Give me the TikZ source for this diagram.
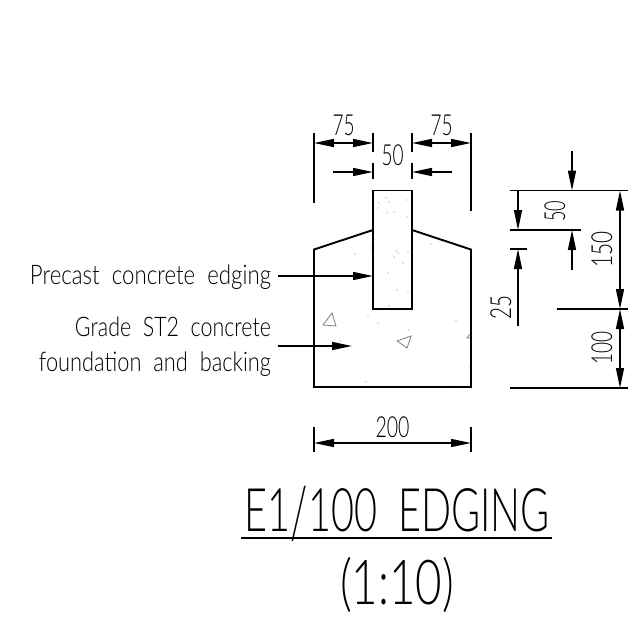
\documentclass[tikz,border=0pt]{standalone}
\usepackage{fontspec}
\usepackage{graphicx}
\setmainfont{Lato Light}
\usetikzlibrary{arrows.meta}
\newcommand\cad[3]{\resizebox{#2pt}{\height}{\fontsize{#1pt}{#1pt}\selectfont #3}}
\tikzset{
  outline/.style={line width=1.9pt,line join=miter},
  ext/.style={line width=1.7pt},
  dim/.style={line width=1.5pt,{Triangle[length=20pt,width=8pt]}-{Triangle[length=20pt,width=8pt]}},
  dimend/.style={line width=1.5pt,-{Triangle[length=20pt,width=8pt]}},
  txt/.style={inner sep=0pt,outer sep=0pt,text=black},
  speck/.style={fill=black!45},
  agg/.style={draw=black!50,line width=.8pt,line join=miter}
}
\begin{document}
\begin{tikzpicture}[x=1pt,y=-1pt]
\useasboundingbox (0,0) rectangle (638,630);
\fill[white] (0,0) rectangle (638,630);
% aggregate specks
\foreach \p in {(386,198),(389,202),(406,200),(379,203),(378,208),(387,213),(394,212),(407,217),(355,254),(371,248),(431,244),(396,251),(398,253),(408,252),(394,257),(403,263),(388,273),(397,290),(408,291),(389,306),(368,315),(378,323),(456,321),(409,330),(340,341),(366,382),(453,386),(470,367)}
  \fill[speck] \p circle (.7);
\draw[agg] (332,313)--(323,325)--(336,326)--cycle;
\draw[agg] (397,341)--(411,336)--(407,348)--cycle;
\draw[agg] (471,333)--(467,338)--(471,338);
% key points
\coordinate (bl) at (314,387); \coordinate (br) at (471,387);
\coordinate (sl) at (314,249.5); \coordinate (sr) at (471,249.5);
\coordinate (il) at (373,230); \coordinate (ir) at (412,230);
\coordinate (etl) at (373,190.5); \coordinate (etr) at (412,190.5);
\coordinate (ebl) at (373,309); \coordinate (ebr) at (412,309);
\draw[outline] (il)--(sl)--(bl)--(br)--(sr)--(ir);
\draw[outline] (etl) rectangle (ebr);
% top dimensions
\coordinate (t1a) at (314,133); \coordinate (t1b) at (314,203);
\coordinate (t2a) at (373,133); \coordinate (t2b) at (373,152);
\coordinate (t3a) at (373,163); \coordinate (t3b) at (373,179);
\coordinate (t4a) at (412,133); \coordinate (t4b) at (412,152);
\coordinate (t5a) at (412,163); \coordinate (t5b) at (412,179);
\coordinate (t6a) at (471,133); \coordinate (t6b) at (471,211);
\foreach \n in {1,...,6} \draw[ext] (t\n a)--(t\n b);
\coordinate (d1a) at (314,143); \coordinate (d1b) at (373,143);
\coordinate (d2a) at (412,143); \coordinate (d2b) at (471,143);
\coordinate (d3a) at (333,172); \coordinate (d3b) at (373,172);
\coordinate (d4a) at (452,172); \coordinate (d4b) at (412,172);
\draw[dim] (d1a)--(d1b);
\draw[dim] (d2a)--(d2b);
\draw[dimend] (d3a)--(d3b);
\draw[dimend] (d4a)--(d4b);
\node[txt,anchor=base] (n75a) at (343.5,135) {\cad{29}{22}{75}};
\node[txt,anchor=base] (n75b) at (441.5,135) {\cad{29}{22}{75}};
\node[txt,anchor=base] (n50) at (392.5,165) {\cad{29}{22}{50}};
% right dimensions
\coordinate (r1a) at (510,190.5); \coordinate (r1b) at (628,190.5);
\coordinate (r2a) at (510,230); \coordinate (r2b) at (581,230);
\coordinate (r3a) at (510,249); \coordinate (r3b) at (527,249);
\coordinate (r4a) at (557,309); \coordinate (r4b) at (628,309);
\coordinate (r5a) at (510,388); \coordinate (r5b) at (628,388);
\foreach \n in {1,...,5} \draw[ext] (r\n a)--(r\n b);
\coordinate (a1) at (572,151); \coordinate (a1t) at (572,190.5);
\coordinate (a2) at (572,270); \coordinate (a2t) at (572,230);
\coordinate (a3) at (518,190.5); \coordinate (a3t) at (518,230);
\coordinate (a4) at (518,326); \coordinate (a4t) at (518,249);
\coordinate (a5) at (620,190.5); \coordinate (a5t) at (620,309);
\coordinate (a6) at (620,309); \coordinate (a6t) at (620,388);
\draw[dimend] (a1)--(a1t);
\draw[dimend] (a2)--(a2t);
\draw[dimend] (a3)--(a3t);
\draw[dimend] (a4)--(a4t);
\draw[dim] (a5)--(a5t);
\draw[dim] (a6)--(a6t);
\node[txt,anchor=base,rotate=90] (v50) at (565,211) {\cad{29}{21}{50}};
\node[txt,anchor=base,rotate=90] (v150) at (612,249) {\cad{29}{36}{150}};
\node[txt,anchor=base,rotate=90] (v25) at (511,307) {\cad{29}{24}{25}};
\node[txt,anchor=base,rotate=90] (v100) at (612,348) {\cad{29}{33}{100}};
% bottom dimension
\coordinate (b1a) at (314,427); \coordinate (b1b) at (314,452);
\coordinate (b2a) at (471,427); \coordinate (b2b) at (471,452);
\draw[ext] (b1a)--(b1b);
\draw[ext] (b2a)--(b2b);
\coordinate (b3a) at (314,443); \coordinate (b3b) at (471,443);
\draw[dim] (b3a)--(b3b);
\node[txt,anchor=base] (n200) at (392.5,437) {\cad{29}{34}{200}};
% labels and leaders
\node[txt,anchor=base east] (lab1) at (271,284) {\cad{27}{241}{Precast\ \ concrete\ \ edging}};
\node[txt,anchor=base east] (lab2) at (271,336) {\cad{27}{196}{Grade\ \ ST2\ \ concrete}};
\node[txt,anchor=base east] (lab3) at (271,371) {\cad{27}{232}{foundation\ \ and\ \ backing}};
\coordinate (l1a) at (278,276); \coordinate (l1b) at (373,276);
\coordinate (l2a) at (278,346); \coordinate (l2b) at (352,346);
\draw[dimend] (l1a)--(l1b);
\draw[dimend] (l2a)--(l2b);
% title
\node[txt,anchor=base] (title) at (397.5,531) {\cad{60}{305}{E1\raisebox{-7pt}{\scalebox{1}[1.2]{/}}100\ \ EDGING}};
\coordinate (ua) at (241,538); \coordinate (ub) at (552,538);
\draw[line width=1.7pt] (ua)--(ub);
\node[txt,anchor=base] (scale) at (397,604) {\cad{62}{114}{(1:10)}};
\end{tikzpicture}
\end{document}
